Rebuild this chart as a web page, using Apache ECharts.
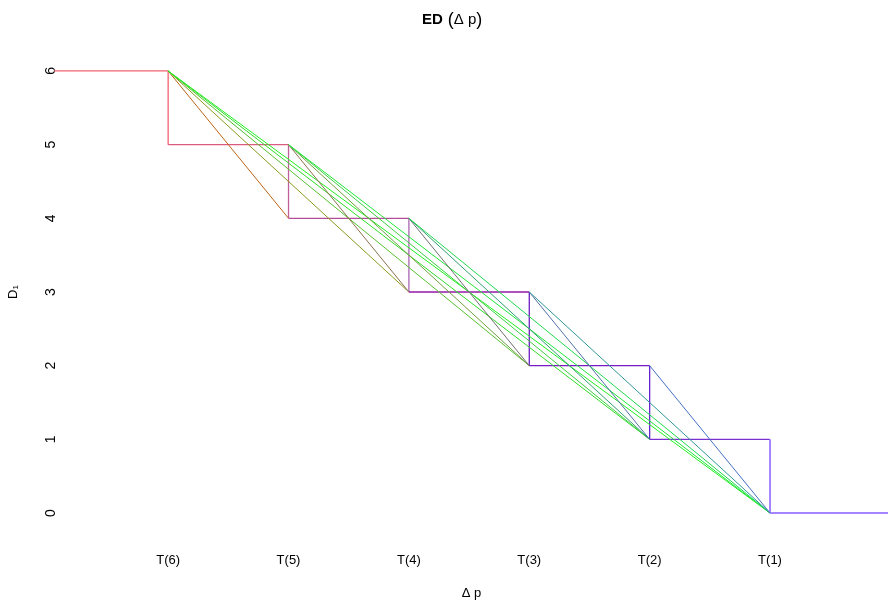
<!DOCTYPE html>
<html><head><meta charset="utf-8">
<script src="https://cdn.jsdelivr.net/npm/echarts@6/dist/echarts.min.js"></script>
<style>html,body{margin:0;padding:0;background:#fff}#c{width:888px;height:603px}</style>
</head><body><div id="c"></div>
<script>
// x positions of the ordered thresholds T(6)..T(1)
const tLabels = ['T(6)', 'T(5)', 'T(4)', 'T(3)', 'T(2)', 'T(1)'];
const tPos = [1, 2, 3, 4, 5, 6];
// D1 value just before each threshold (drops by one at each)
const tLevel = [6, 5, 4, 3, 2, 1];
const yTicks = [0, 1, 2, 3, 4, 5, 6];
// step function segment colours: [horizontal before T(k), vertical at T(k)], last = tail horizontal
const stepHColors = ['#f0646e', '#dc5c80', '#b44c98', '#9418a8', '#7a1ac4', '#7830d0'];
const stepVColors = ['#f0646e', '#c0609a', '#a864b4', '#6c1cc4', '#6424d0', '#a484ff'];
const stepTailColor = '#a484ff';
// diagonal segments: from (T(k), k) to (T(j), j-1), index pairs into tPos
const diagFrom = [0, 0, 0, 0, 0, 1, 1, 1, 1, 2, 2, 2, 3, 3, 4];
const diagTo   = [1, 2, 3, 4, 5, 2, 3, 4, 5, 3, 4, 5, 4, 5, 5];
const diagColors = ['#bc6418', '#8c9a20', '#58c030', '#30dc28', '#20f020',
                    '#8c7050', '#70a040', '#3cd040', '#20e838',
                    '#707070', '#30a070', '#20d850',
                    '#5470a8', '#30989a',
                    '#4470c4'];

const series = [];
const xLeft = -1, xRight = 8;
for (let i = 0; i < tPos.length; i++) {
  const x0 = i === 0 ? xLeft : tPos[i - 1];
  series.push({type: 'line', data: [[x0, tLevel[i]], [tPos[i], tLevel[i]]], symbol: 'none', silent: true,
    lineStyle: {color: stepHColors[i], width: 1.3}});
  series.push({type: 'line', data: [[tPos[i], tLevel[i]], [tPos[i], tLevel[i] - 1]], symbol: 'none', silent: true,
    lineStyle: {color: stepVColors[i], width: i === tPos.length - 1 ? 2 : 1.3}});
}
series.push({type: 'line', data: [[tPos[tPos.length - 1], 0], [xRight, 0]], symbol: 'none', silent: true,
  lineStyle: {color: stepTailColor, width: 2}});
for (let s = 0; s < diagFrom.length; s++) {
  const a = diagFrom[s], b = diagTo[s];
  series.push({type: 'line', data: [[tPos[a], tLevel[a]], [tPos[b], tLevel[b] - 1]], symbol: 'none', silent: true,
    lineStyle: {color: diagColors[s], width: 1}});
}

const FONT = '"Liberation Sans Narrow", "Liberation Sans", Arial, sans-serif';
const chart = echarts.init(document.getElementById('c'), null, {renderer: 'canvas'});
chart.setOption({
  animation: false,
  backgroundColor: '#ffffff',
  title: {
    text: '{b|ED} {p|(}{r|Δ p}{p|)}',
    left: 417, top: 6,
    textStyle: {rich: {
      b: {fontFamily: FONT, fontWeight: 'bold', fontSize: 15, color: '#000'},
      r: {fontFamily: FONT, fontWeight: 'normal', fontSize: 15, color: '#000'},
      p: {fontFamily: FONT, fontWeight: 'normal', fontSize: 18, color: '#000'}
    }}
  },
  grid: {left: 55, right: 0, top: 41.5, bottom: 60.5, containLabel: false, outerBoundsMode: 'none'},
  xAxis: {
    type: 'value', min: 0.06, max: 6.98,
    name: 'Δ p', nameLocation: 'middle', nameGap: 44,
    nameTextStyle: {fontFamily: FONT, fontSize: 13, color: '#000'},
    axisLine: {show: false}, axisTick: {show: false}, splitLine: {show: false},
    axisLabel: {customValues: tPos, margin: 11, fontFamily: FONT, fontSize: 13, color: '#000',
      formatter: v => tLabels[tPos.indexOf(v)] || ''}
  },
  yAxis: {
    type: 'value', min: -0.4, max: 6.4,
    name: 'D₁', nameLocation: 'middle', nameGap: 35, nameRotate: 90,
    nameTextStyle: {fontFamily: FONT, fontSize: 13, color: '#000'},
    axisLine: {show: false}, axisTick: {show: false}, splitLine: {show: false},
    axisLabel: {customValues: yTicks, rotate: 90, margin: -3, fontFamily: FONT, fontSize: 14, color: '#000'}
  },
  series: series
});
</script></body></html>
